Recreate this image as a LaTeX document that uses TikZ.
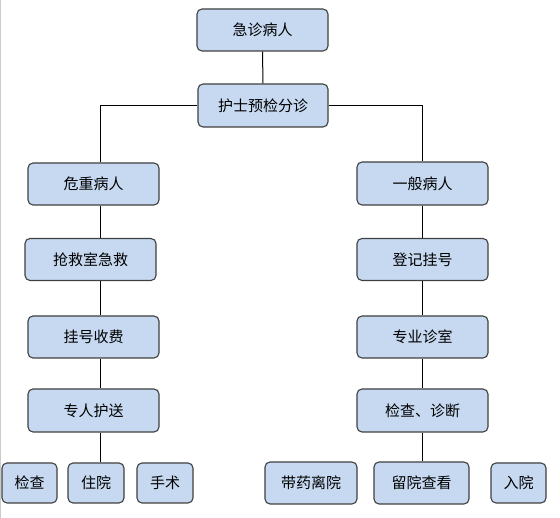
\documentclass[tikz,border=0pt]{standalone}
\usepackage{fontspec}
\newfontfamily\cjk{Noto Sans CJK SC}
\definecolor{boxfill}{HTML}{C6D9F1}
\definecolor{boxline}{HTML}{404040}
\begin{document}
\begin{tikzpicture}[x=1pt,y=-1pt,
  box/.style={draw=boxline,fill=boxfill,line width=1.1pt,rounded corners=5pt,
    minimum height=42pt,inner sep=0pt,font=\cjk\fontsize{15}{18}\selectfont},
  wide/.style={box,minimum width=131pt},
  conn/.style={draw=black,line width=1pt}]
\useasboundingbox (0,0) rectangle (560,518);
\fill[white] (0,0) rectangle (560,518);
\draw[gray!40,line width=1pt] (0.5,0) -- (0.5,518);
\node[wide] (A) at (262.5,30) {急诊病人};
\node[wide,minimum width=130pt,minimum height=43pt] (B) at (263,105.5) {护士预检分诊};
\node[wide] (C) at (93.5,184) {危重病人};
\node[wide] (D) at (90.5,259.5) {抢救室急救};
\node[wide] (E) at (93.5,337) {挂号收费};
\node[wide,minimum height=43pt] (F) at (93.5,410.5) {专人护送};
\node[box,minimum width=55pt,minimum height=40pt] (G) at (29.5,483) {检查};
\node[box,minimum width=56pt,minimum height=40pt] (H) at (96,483) {住院};
\node[box,minimum width=56pt,minimum height=40pt] (I) at (165,483) {手术};
\node[wide,minimum height=43pt] (J) at (422.5,183.5) {一般病人};
\node[wide] (K) at (422.5,259.5) {登记挂号};
\node[wide] (L) at (422.5,337) {专业诊室};
\node[wide,minimum height=43pt] (M) at (422.5,410.5) {检查、诊断};
\node[box,minimum width=92pt] (N) at (311,483) {带药离院};
\node[box,minimum width=95pt] (O) at (421.5,483) {留院查看};
\node[box,minimum width=55pt,minimum height=40pt] (P) at (518.5,483) {入院};
\coordinate (lx) at (100,0);
\coordinate (rx) at (422,0);
\draw[conn] (A) -- (B);
\draw[conn] (B.west) -| (C.north -| lx);
\draw[conn] (B.east) -| (J.north -| rx);
\draw[conn] (C.south -| lx) -- (D.north -| lx);
\draw[conn] (D.south -| lx) -- (E.north -| lx);
\draw[conn] (E.south -| lx) -- (F.north -| lx);
\draw[conn] (F.south -| lx) -- (H.north -| lx);
\draw[conn] (J.south -| rx) -- (K.north -| rx);
\draw[conn] (K.south -| rx) -- (L.north -| rx);
\draw[conn] (L.south -| rx) -- (M.north -| rx);
\draw[conn] (M.south -| rx) -- (O.north -| rx);
\end{tikzpicture}
\end{document}
